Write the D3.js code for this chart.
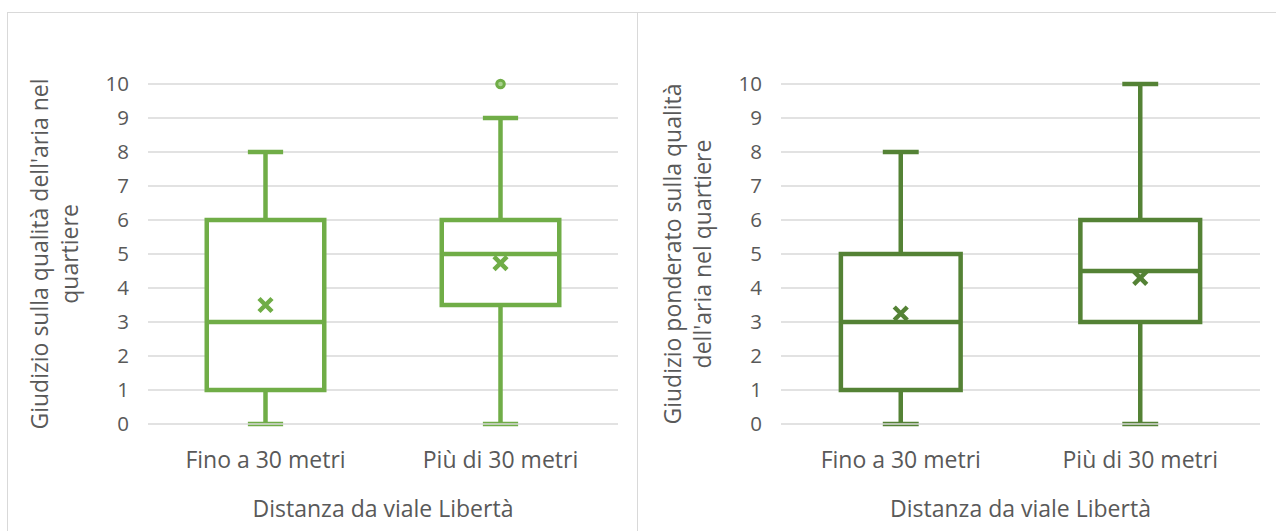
<!DOCTYPE html>
<html>
<head>
<meta charset="utf-8">
<script src="https://cdn.jsdelivr.net/npm/d3@7"></script>
<style>
  html, body { margin: 0; padding: 0; background: #fff; }
  svg { display: block; font-family: "Open Sans", sans-serif; }
</style>
</head>
<body>
<svg id="chart" width="1276" height="531"></svg>
<script>
// Categories shared by both panels
const categories = ["Fino a 30 metri", "Più di 30 metri"];
const yTicks = [0, 1, 2, 3, 4, 5, 6, 7, 8, 9, 10];

// Panel 1: giudizio sulla qualità dell'aria
const rawMin = [0, 0];
const rawQ1 = [1, 3.5];
const rawMedian = [3, 5];
const rawQ3 = [6, 6];
const rawMax = [8, 9];
const rawMean = [3.5, 4.73];
const rawOutliers = [[], [10]];

// Panel 2: giudizio ponderato
const wMin = [0, 0];
const wQ1 = [1, 3];
const wMedian = [3, 4.5];
const wQ3 = [5, 6];
const wMax = [8, 10];
const wMean = [3.25, 4.3];
const wOutliers = [[], []];

const xTitle = "Distanza da viale Libertà";

const panels = [
  {
    frame: [7.5, 637.5],
    plot: { x0: 148, x1: 618 },
    color: "#70ad47",
    fill: "#a9d18e",
    title: ["Giudizio sulla qualità dell'aria nel", "quartiere"],
    min: rawMin, q1: rawQ1, median: rawMedian, q3: rawQ3, max: rawMax, mean: rawMean, outliers: rawOutliers
  },
  {
    frame: [637.5, 1290],
    plot: { x0: 781, x1: 1260 },
    color: "#548235",
    fill: "#8fb574",
    title: ["Giudizio ponderato sulla qualità", "dell'aria nel quartiere"],
    min: wMin, q1: wQ1, median: wMedian, q3: wQ3, max: wMax, mean: wMean, outliers: wOutliers
  }
];

const svg = d3.select("#chart");
const textColor = "#595959";
const gridColor = "#d9d9d9";
const yTop = 84, yBottom = 424;
const lw = 4.5;

panels.forEach(p => {
  const g = svg.append("g");

  // panel frame
  g.append("rect")
    .attr("x", p.frame[0]).attr("y", 12.5)
    .attr("width", p.frame[1] - p.frame[0]).attr("height", 560)
    .attr("fill", "none").attr("stroke", gridColor).attr("stroke-width", 1);

  const y = d3.scaleLinear().domain([0, 10]).range([yBottom, yTop]);
  const x = d3.scaleBand().domain(categories).range([p.plot.x0, p.plot.x1]);

  // gridlines
  g.append("g").selectAll("line").data(yTicks.filter(t => t > 0)).join("line")
    .attr("x1", p.plot.x0).attr("x2", p.plot.x1)
    .attr("y1", d => y(d)).attr("y2", d => y(d))
    .attr("stroke", gridColor).attr("stroke-width", 1.5);

  // y axis labels
  const yAxis = d3.axisLeft(y).tickValues(yTicks).tickSize(0).tickPadding(19);
  const ya = g.append("g").attr("transform", `translate(${p.plot.x0},0)`).call(yAxis);
  ya.select(".domain").remove();
  ya.selectAll("text").attr("fill", textColor).style("font-size", "20.5px")
    .style("font-family", "'Open Sans', sans-serif");

  // boxes
  const bw = x.bandwidth() * 0.5;
  const capW = bw * 0.3;
  const idx = d3.range(categories.length);
  const boxes = g.append("g").selectAll("g").data(idx).join("g")
    .attr("transform", i => `translate(${x(categories[i]) + x.bandwidth() / 2},0)`);

  const st = sel => sel.attr("stroke", p.color).attr("stroke-width", lw).attr("fill", "none");

  // whiskers
  boxes.append("line").call(st)
    .attr("x1", 0).attr("x2", 0).attr("y1", i => y(p.q3[i])).attr("y2", i => y(p.max[i]));
  boxes.append("line").call(st)
    .attr("x1", 0).attr("x2", 0).attr("y1", i => y(p.q1[i])).attr("y2", i => y(p.min[i]));
  boxes.append("line").call(st)
    .attr("x1", -capW / 2).attr("x2", capW / 2).attr("y1", i => y(p.max[i])).attr("y2", i => y(p.max[i]));
  boxes.append("line").call(st)
    .attr("x1", -capW / 2).attr("x2", capW / 2).attr("y1", i => y(p.min[i])).attr("y2", i => y(p.min[i]));

  // box
  boxes.append("rect").call(st)
    .attr("x", -bw / 2).attr("width", bw)
    .attr("y", i => y(p.q3[i])).attr("height", i => y(p.q1[i]) - y(p.q3[i]))
    .attr("fill", "#fff");
  // median
  boxes.append("line").call(st)
    .attr("x1", -bw / 2).attr("x2", bw / 2).attr("y1", i => y(p.median[i])).attr("y2", i => y(p.median[i]));

  // mean marker (x)
  const m = 6.5;
  boxes.append("path").call(st).attr("stroke-width", 4.5)
    .attr("d", i => {
      const c = y(p.mean[i]);
      return `M${-m},${c - m}L${m},${c + m}M${-m},${c + m}L${m},${c - m}`;
    });

  // outliers
  boxes.selectAll("circle").data(i => p.outliers[i]).join("circle")
    .attr("cx", 0).attr("cy", d => y(d)).attr("r", 3.8)
    .attr("fill", p.fill).attr("stroke", p.color).attr("stroke-width", 3);

  // baseline at zero drawn on top of the caps
  g.append("line")
    .attr("x1", p.plot.x0).attr("x2", p.plot.x1)
    .attr("y1", y(0)).attr("y2", y(0))
    .attr("stroke", gridColor).attr("stroke-width", 1.5);

  // category labels
  g.append("g").selectAll("text").data(categories).join("text")
    .attr("x", d => x(d) + x.bandwidth() / 2).attr("y", yBottom + 44)
    .attr("text-anchor", "middle").attr("fill", textColor)
    .style("font-size", "23px").text(d => d);

  // x axis title
  g.append("text")
    .attr("x", (p.plot.x0 + p.plot.x1) / 2).attr("y", yBottom + 93)
    .attr("text-anchor", "middle").attr("fill", textColor)
    .style("font-size", "23px").text(xTitle);

  // y axis title (two lines, rotated)
  const cy = (yTop + yBottom) / 2;
  p.title.forEach((line, k) => {
    const bx = p.plot.x0 - 100 + k * 30;
    g.append("text")
      .attr("transform", `translate(${bx},${cy}) rotate(-90)`)
      .attr("text-anchor", "middle").attr("fill", textColor)
      .style("font-size", "23px").text(line);
  });
});
</script>
</body>
</html>
